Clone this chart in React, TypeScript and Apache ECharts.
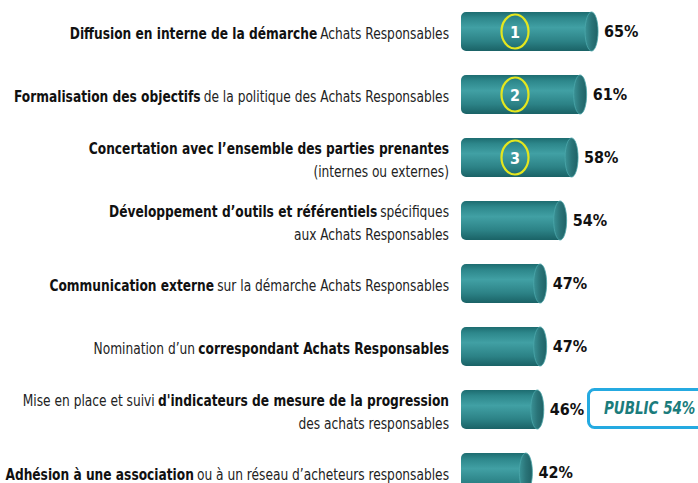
import React, { useEffect, useRef } from "react";
import * as echarts from "echarts";

const categoryLabels = [
  "{b|Diffusion en interne de la démarche} {n|Achats Responsables}",
  "{b|Formalisation des objectifs} {n|de la politique des Achats Responsables}",
  "{b|Concertation avec l’ensemble des parties prenantes}\n{n|(internes ou externes)}",
  "{b|Développement d’outils et référentiels} {n|spécifiques}\n{n|aux Achats Responsables}",
  "{b|Communication externe} {n|sur la démarche Achats Responsables}",
  "{n|Nomination d’un} {b|correspondant Achats Responsables}",
  "{n|Mise en place et suivi} {b|d'indicateurs de mesure de la progression}\n{n|des achats responsables}",
  "{b|Adhésion à une association} {n|ou à un réseau d’acheteurs responsables}",
];
const values = [65, 61, 58, 54, 47, 47, 46, 42];
const ranks = ["1", "2", "3", "", "", "", "", ""];
const publicNote = "PUBLIC 54%";

const X_MIN = 17;
const X_MAX = 100;
const FONT = "'DejaVu Sans Condensed', sans-serif";

export default function App() {
  const ref = useRef<HTMLDivElement>(null);
  useEffect(() => {
    if (!ref.current) return;
    const chart = echarts.init(ref.current, null, { renderer: "svg" });
    const option: any = {
      animation: false,
      backgroundColor: "#ffffff",
      grid: { left: 461, top: 0, width: 237, height: 504, outerBoundsMode: "none", containLabel: false },
      xAxis: { type: "value", min: X_MIN, max: X_MAX, show: false },
      yAxis: {
        type: "category",
        inverse: true,
        data: categoryLabels,
        axisLine: { show: false },
        axisTick: { show: false },
        splitLine: { show: false },
        axisLabel: { show: false },
      },
      series: [
        {
          type: "custom",
          data: values.map((v, i) => [v, i]),
          encode: { x: 0, y: 1 },
          renderItem: (params: any, api: any) => {
            const v = api.value(0);
            const idx = api.value(1);
            const rank = ranks[idx];
            const s = api.coord([X_MIN, idx]);
            const e = api.coord([v, idx]);
            const bandH = api.size([0, 1])[1];
            const h = bandH * 0.62;
            const rx = 6.5;
            const x0 = s[0];
            const x1 = e[0];
            const cy = s[1];
            const y0 = cy - h / 2;
            const grad = new echarts.graphic.LinearGradient(0, 0, 0, 1, [
              { offset: 0, color: "#1d6c70" },
              { offset: 0.15, color: "#2d878b" },
              { offset: 0.4, color: "#41a0a4" },
              { offset: 0.75, color: "#2c8286" },
              { offset: 1, color: "#1a6266" },
            ]);
            const capGrad = new echarts.graphic.LinearGradient(0, 0, 1, 0, [
              { offset: 0, color: "#3a9296" },
              { offset: 0.5, color: "#2a7478" },
              { offset: 1, color: "#1f6266" },
            ]);
            const children: any[] = [
              {
                type: "text",
                x: x0 - 12,
                y: cy + 2,
                scaleX: 0.85,
                style: {
                  text: categoryLabels[idx],
                  align: "right",
                  verticalAlign: "middle",
                  lineHeight: 23,
                  rich: {
                    b: { fontFamily: FONT, fontWeight: "bold", fontSize: 16, fill: "#111", lineHeight: 23, align: "right" },
                    n: { fontFamily: FONT, fontWeight: "normal", fontSize: 16, fill: "#222", lineHeight: 23, align: "right" },
                  },
                },
              },
              {
                type: "rect",
                shape: { x: x0, y: y0, width: x1 - rx - x0, height: h, r: [5, 0, 0, 5] },
                style: { fill: grad },
              },
              {
                type: "ellipse",
                shape: { cx: x1 - rx, cy, rx, ry: h / 2 },
                style: { fill: capGrad, stroke: "#4aa6aa", lineWidth: 0.8 },
              },
              {
                type: "text",
                x: x1 + 6,
                y: cy,
                style: {
                  text: v + "%",
                  fontFamily: FONT,
                  fontWeight: "bold",
                  fontSize: 16,
                  fill: "#111",
                  verticalAlign: "middle",
                  align: "left",
                },
              },
            ];
            if (rank) {
              const cx = x0 + 54;
              children.push({
                type: "ellipse",
                shape: { cx, cy, rx: 13.5, ry: 17 },
                style: { fill: "none", stroke: "#e4e61e", lineWidth: 2.2 },
              });
              children.push({
                type: "text",
                x: cx,
                y: cy + 1,
                style: {
                  text: rank,
                  fontFamily: FONT,
                  fontWeight: "bold",
                  fontSize: 16,
                  fill: "#ffffff",
                  align: "center",
                  verticalAlign: "middle",
                },
              });
            }
            return { type: "group", children };
          },
        },
      ],
      graphic: [
        {
          type: "rect",
          left: 587,
          top: 388,
          shape: { width: 130, height: 38, r: 6 },
          style: { fill: "#ffffff", stroke: "#25aae1", lineWidth: 3 },
          z: 10,
        },
        {
          type: "text",
          x: 604,
          y: 408,
          scaleX: 0.88,
          style: {
            text: publicNote,
            fontFamily: FONT,
            fontWeight: "bold",
            fontStyle: "italic",
            fontSize: 17,
            fill: "#1b7c7c",
            verticalAlign: "middle",
          },
          z: 11,
        },
      ],
    };
    chart.setOption(option);
    return () => chart.dispose();
  }, []);
  return <div ref={ref} style={{ width: 698, height: 483, position: "absolute", left: 0, top: 0 }} />;
}
